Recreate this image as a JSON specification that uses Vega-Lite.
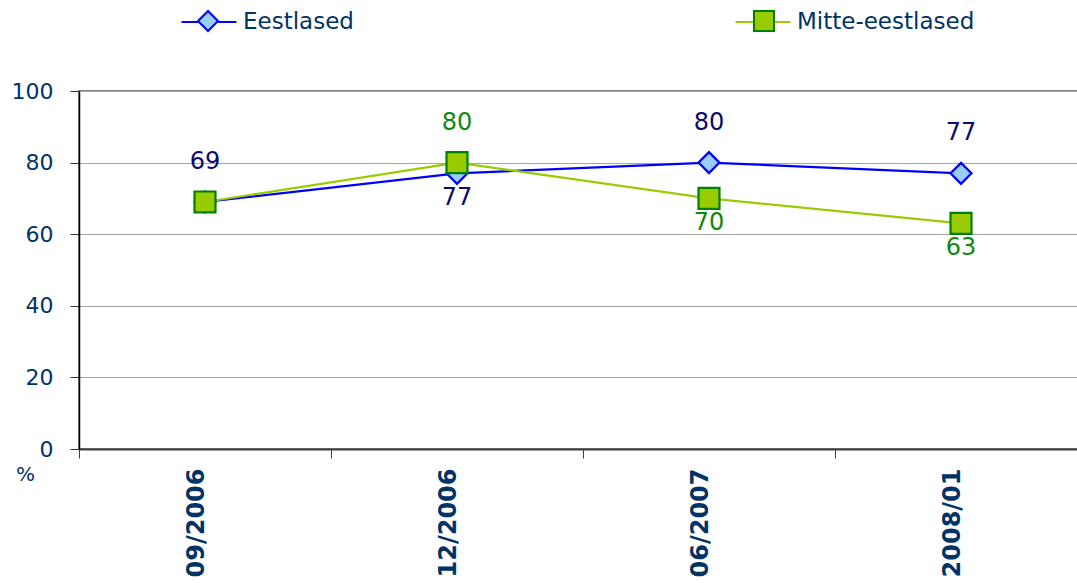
{
  "$schema": "https://vega.github.io/schema/vega-lite/v6.json",
  "width": 1008,
  "height": 358,
  "autosize": {"type": "none"},
  "padding": {"left": 79, "top": 91, "right": 0, "bottom": 135},
  "background": "white",
  "config": {
    "font": "DejaVu Sans",
    "view": {"stroke": "#808080", "strokeWidth": 2}
  },
  "data": {
    "values": [
      {"date": "09/2006", "series": "Eestlased", "value": 69},
      {"date": "12/2006", "series": "Eestlased", "value": 77},
      {"date": "06/2007", "series": "Eestlased", "value": 80},
      {"date": "2008/01", "series": "Eestlased", "value": 77},
      {"date": "09/2006", "series": "Mitte-eestlased", "value": 69},
      {"date": "12/2006", "series": "Mitte-eestlased", "value": 80},
      {"date": "06/2007", "series": "Mitte-eestlased", "value": 70},
      {"date": "2008/01", "series": "Mitte-eestlased", "value": 63}
    ]
  },
  "encoding": {
    "x": {
      "field": "date",
      "type": "ordinal",
      "sort": null,
      "scale": {"type": "band", "paddingInner": 0, "paddingOuter": 0},
      "axis": {
        "title": null,
        "tickBand": "extent",
        "tickSize": 9,
        "tickColor": "#404040",
        "domainColor": "#404040",
        "domainWidth": 2,
        "labelAngle": -90,
        "labelFontSize": 24,
        "labelFontWeight": "bold",
        "labelColor": "#003366",
        "labelPadding": 10,
        "labelOffset": -9,
        "grid": false
      }
    },
    "y": {
      "field": "value",
      "type": "quantitative",
      "scale": {"domain": [0, 100], "nice": false},
      "axis": {
        "values": [0, 20, 40, 60, 80, 100],
        "title": "%",
        "titleAngle": 0,
        "titleX": -54,
        "titleY": 389,
        "titleAlign": "center",
        "titleBaseline": "alphabetic",
        "titleFontSize": 20,
        "titleFontWeight": "normal",
        "titleColor": "#003366",
        "labelFontSize": 22,
        "labelColor": "#003366",
        "labelPadding": 17,
        "tickSize": 9,
        "tickColor": "#333333",
        "domainColor": "#000000",
        "domainWidth": 1.5,
        "grid": true,
        "gridColor": "#a6a6a6",
        "gridWidth": 1
      }
    }
  },
  "layer": [
    {
      "mark": {"type": "line", "strokeWidth": 2.2},
      "encoding": {
        "color": {
          "field": "series",
          "type": "nominal",
          "scale": {"range": ["#0000ff", "#99cc00"]},
          "legend": {
            "orient": "none",
            "legendX": 101,
            "legendY": -98,
            "direction": "horizontal",
            "title": null,
            "symbolType": "M-1,0H-0.3M0.3,0H1",
            "symbolSize": 3025,
            "symbolStrokeWidth": 2.2,
            "labelOffset": 5,
            "labelFontSize": 23,
            "labelLimit": 400,
            "labelColor": "#003366",
            "columnPadding": 377
          }
        }
      }
    },
    {
      "mark": {"type": "point", "filled": true, "size": 440, "strokeWidth": 2.2, "opacity": 1},
      "encoding": {
        "shape": {
          "field": "series",
          "type": "nominal",
          "scale": {"domain": ["Eestlased", "Mitte-eestlased"], "range": ["diamond", "square"]},
          "legend": {
            "orient": "none",
            "legendX": 118,
            "legendY": -81,
            "direction": "horizontal",
            "title": null,
            "symbolSize": 400,
            "symbolStrokeWidth": 2,
            "labelOffset": 0,
            "labelExpr": "''",
            "labelColor": "transparent",
            "columnPadding": 528
          }
        },
        "fill": {
          "field": "series",
          "type": "nominal",
          "scale": {"domain": ["Eestlased", "Mitte-eestlased"], "range": ["#99ccff", "#99cc00"]},
          "legend": {
            "orient": "none",
            "legendX": 118,
            "legendY": -81,
            "direction": "horizontal",
            "title": null,
            "symbolSize": 400,
            "symbolStrokeWidth": 2,
            "labelOffset": 0,
            "labelExpr": "''",
            "labelColor": "transparent",
            "columnPadding": 528
          }
        },
        "stroke": {
          "field": "series",
          "type": "nominal",
          "scale": {"domain": ["Eestlased", "Mitte-eestlased"], "range": ["#0000ff", "#008000"]},
          "legend": {
            "orient": "none",
            "legendX": 118,
            "legendY": -81,
            "direction": "horizontal",
            "title": null,
            "symbolSize": 400,
            "symbolStrokeWidth": 2,
            "labelOffset": 0,
            "labelExpr": "''",
            "labelColor": "transparent",
            "columnPadding": 528
          }
        }
      }
    },
    {
      "transform": [
        {"filter": "(datum.series === 'Eestlased' && datum.date !== '12/2006') || (datum.series === 'Mitte-eestlased' && datum.date === '12/2006')"}
      ],
      "mark": {"type": "text", "fontSize": 24, "dy": -40, "baseline": "middle", "align": "center"},
      "encoding": {
        "text": {"field": "value", "type": "quantitative"},
        "fill": {"condition": {"test": "datum.series === 'Eestlased'", "value": "#0a0a6e"}, "value": "#118811"}
      }
    },
    {
      "transform": [
        {"filter": "(datum.series === 'Eestlased' && datum.date === '12/2006') || (datum.series === 'Mitte-eestlased' && datum.date !== '12/2006' && datum.date !== '09/2006')"}
      ],
      "mark": {"type": "text", "fontSize": 24, "dy": 25, "baseline": "middle", "align": "center"},
      "encoding": {
        "text": {"field": "value", "type": "quantitative"},
        "fill": {"condition": {"test": "datum.series === 'Eestlased'", "value": "#0a0a6e"}, "value": "#118811"}
      }
    }
  ]
}
